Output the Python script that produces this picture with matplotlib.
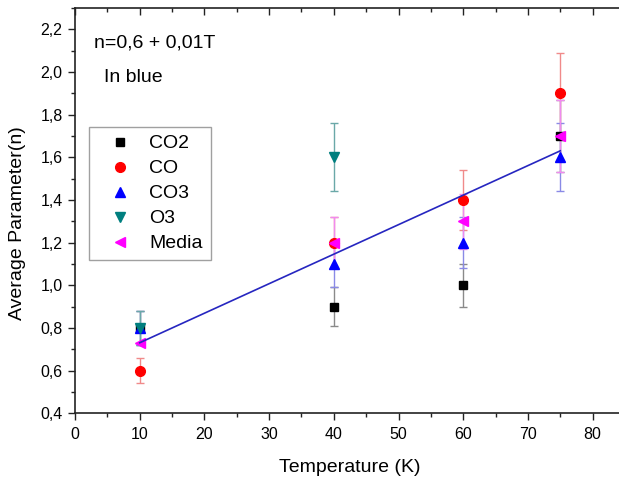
import numpy as np
import matplotlib
matplotlib.use("Agg")
import matplotlib.pyplot as plt
from matplotlib.ticker import MultipleLocator, FuncFormatter

plt.rcParams['font.family'] = ['Liberation Sans', 'DejaVu Sans']

# ---- data ----
temps = [10, 40, 60, 75]
co2 = [0.80, 0.90, 1.00, 1.70]
co2_err = [0.08, 0.09, 0.10, 0.17]
co = [0.60, 1.20, 1.40, 1.90]
co_err = [0.06, 0.12, 0.14, 0.19]
co3 = [0.80, 1.10, 1.20, 1.60]
co3_err = [0.08, 0.11, 0.12, 0.16]
o3_temps = [10, 40]
o3 = [0.80, 1.60]
o3_err = [0.08, 0.16]
media = [0.73, 1.20, 1.30, 1.70]
media_err = [0.0, 0.12, 0.13, 0.17]

W, H = 619, 479
fig = plt.figure(figsize=(W / 100, H / 100), dpi=100)
ax = fig.add_axes([75 / W, (H - 413.3) / H, 550 / W, 405.3 / H])

series = [
    ("CO2", temps, co2, co2_err, 's', '#000000', '#8a8a8a', 6.0),
    ("CO", temps, co, co_err, 'o', '#ff0000', '#f08a8a', 7.0),
    ("CO3", temps, co3, co3_err, '^', '#0000ff', '#8a8ae6', 7.0),
    ("O3", o3_temps, o3, o3_err, 'v', '#007f7f', '#6aa8a8', 7.0),
    ("Media", temps, media, media_err, '<', '#ff00ff', '#f08af0', 7.0),
]
handles = []
for name, xs, ys, es, mk, c, ec, ms in series:
    cont = ax.errorbar(xs, ys, yerr=es, fmt=mk, color=c, mec=c, ms=ms,
                       ecolor=ec, elinewidth=1.0, capsize=3.0, capthick=1.0,
                       label=name, zorder=3)
    handles.append(cont[0])

# linear fit of the mean values
p = np.polyfit(temps, media, 1)
xf = np.array([min(temps), max(temps)])
ax.plot(xf, np.polyval(p, xf), color='#2626c0', lw=1.2, zorder=4)

ax.set_xlim(0, 85)
ax.set_ylim(0.4, 2.3)
ax.xaxis.set_major_locator(MultipleLocator(10))
ax.xaxis.set_minor_locator(MultipleLocator(5))
ax.yaxis.set_major_locator(MultipleLocator(0.2))
ax.yaxis.set_minor_locator(MultipleLocator(0.1))
ax.yaxis.set_major_formatter(FuncFormatter(lambda v, pos: f"{v:.1f}".replace('.', ',')))
ax.xaxis.set_major_formatter(FuncFormatter(lambda v, pos: f"{v:.0f}"))

for s in ax.spines.values():
    s.set_linewidth(1.2)
    s.set_color('#222222')
ax.spines['right'].set_visible(False)

ax.tick_params(axis='both', which='both', top=True, right=False, color='#222222',
               labelsize=11.5, width=1.0)
ax.tick_params(axis='x', which='major', direction='out', length=5, pad=5)
ax.tick_params(axis='y', which='major', direction='out', length=5, pad=4)
ax.tick_params(axis='both', which='minor', direction='out', length=3)
# top ticks point inward
for t in ax.xaxis.get_major_ticks() + ax.xaxis.get_minor_ticks():
    t.tick2line.set_marker(matplotlib.lines.TICKDOWN)

ax.set_xlabel("Temperature (K)", fontsize=14, va='center')
ax.xaxis.set_label_coords(0.5, -0.1325)
ax.set_ylabel("Average Parameter(n)", fontsize=14, va='center')
ax.yaxis.set_label_coords(-0.105, 0.468)

fig.text(94 / W, 1 - 47 / H, "n=0,6 + 0,01T", fontsize=14, va='baseline', ha='left')
fig.text(104 / W, 1 - 82 / H, "In blue", fontsize=14, va='baseline', ha='left')

leg = ax.legend(handles=handles, labels=[s[0] for s in series],
                loc='upper left', bbox_to_anchor=(89 / W, 1 - 127 / H),
                bbox_transform=fig.transFigure, borderaxespad=0,
                fontsize=14, frameon=True, fancybox=False, framealpha=1,
                edgecolor='#a0a0a0', handlelength=2.4, handletextpad=0.3,
                borderpad=0.4, labelspacing=0.38)
leg.get_frame().set_linewidth(1.0)

fig.savefig("out.png", dpi=100)
